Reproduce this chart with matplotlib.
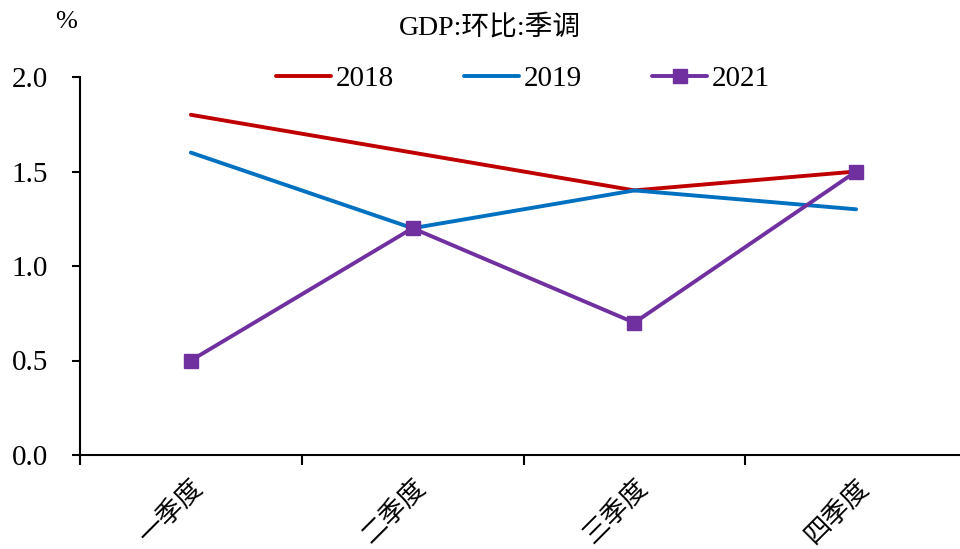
import matplotlib
matplotlib.use("Agg")
import matplotlib.pyplot as plt

plt.rcParams['font.family'] = ['Liberation Serif', 'Noto Sans CJK SC', 'DejaVu Sans']

quarters = ["一季度", "二季度", "三季度", "四季度"]
gdp_2018 = [1.8, 1.6, 1.4, 1.5]
gdp_2019 = [1.6, 1.2, 1.4, 1.3]
gdp_2021 = [0.5, 1.2, 0.7, 1.5]
y_ticks = [0.0, 0.5, 1.0, 1.5, 2.0]

fig = plt.figure(figsize=(9.6, 5.49), dpi=100)
ax = fig.add_axes([80 / 960, 1 - 455 / 549, 887 / 960, 378 / 549])

x = [i + 0.5 for i in range(len(quarters))]
ax.plot(x, gdp_2018, color="#C00000", lw=2.8, label="2018", solid_capstyle="round")
ax.plot(x, gdp_2019, color="#0070C0", lw=2.8, label="2019", solid_capstyle="round")
ax.plot(x, gdp_2021, color="#7030A0", lw=2.8, marker="s", markersize=10.5,
        label="2021", solid_capstyle="round")

ax.set_xlim(0, len(quarters))
ax.set_ylim(0, 2.0)
ax.set_yticks(y_ticks)
ax.set_yticklabels([f"{v:.1f}" for v in y_ticks], fontsize=21)

ax.set_xticks(range(len(quarters) + 1))
ax.set_xticklabels([])
ax.set_xticks(x, minor=True)
ax.set_xticklabels(quarters, minor=True, rotation=45, ha="right", va="top",
                   rotation_mode="anchor", fontsize=19)
ax.tick_params(axis="x", which="major", direction="out", length=7, width=1.5)
ax.tick_params(axis="x", which="minor", length=0, pad=14)
ax.tick_params(axis="y", direction="out", length=6, width=1.5, pad=17)

for side in ("top", "right"):
    ax.spines[side].set_visible(False)
for side in ("left", "bottom"):
    ax.spines[side].set_linewidth(1.5)

fig.text(66 / 960, 1 - 22 / 549, "%", fontsize=19, ha="center", va="center")
fig.text(490 / 960, 1 - 28 / 549, "GDP:环比:季调", fontsize=20, ha="center", va="center")

fig.legend(loc="center", bbox_to_anchor=(523 / 960, 1 - 79 / 549), ncol=3, frameon=False,
           fontsize=21, handlelength=1.9, columnspacing=2.4, handletextpad=0.15,
           borderaxespad=0, borderpad=0)

fig.savefig("out.png", dpi=100)
